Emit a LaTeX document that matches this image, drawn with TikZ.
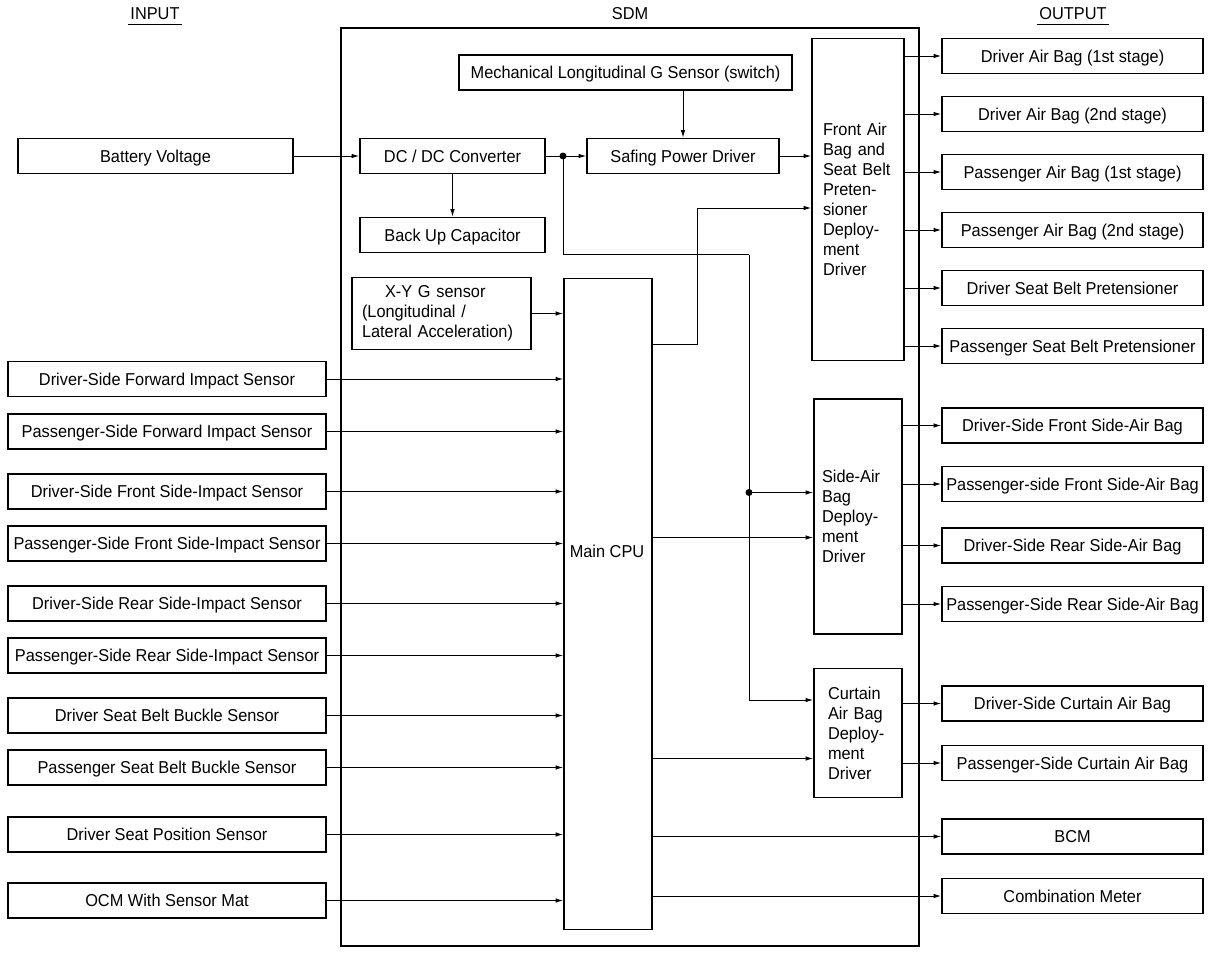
\documentclass[tikz,border=0pt]{standalone}
\usepackage{fontspec}
\setmainfont{Liberation Sans}[FakeStretch=0.95]
\usetikzlibrary{arrows.meta,calc}
\begin{document}
\begin{tikzpicture}[x=1pt,y=-1pt,
 font=\fontsize{17.2}{20}\selectfont,
 basebox/.style={draw, line width=1.8pt, inner sep=0pt, minimum height=35pt},
 box/.style={basebox, align=center, text height=12.4pt, text depth=0pt},
 inbox/.style={box, minimum width=318pt},
 outbox/.style={box, minimum width=261pt},
 drvbox/.style={basebox, align=left},
 hdr/.style={inner xsep=2.5pt, inner ysep=4pt},
 arr/.style={line width=0.9pt, -{Latex[length=7.5pt,width=4.5pt]}},
 ln/.style={line width=0.9pt},
 dot/.style={circle, fill, inner sep=0pt, minimum size=7pt},
]
\useasboundingbox (0,0) rectangle (1214,958);

% headers
\node[hdr] (inp) at (155,13.8) {INPUT};
\draw[ln] (inp.south west) -- (inp.south east);
\node[hdr] (sdml) at (630,13.8) {SDM};
\node[hdr] (outp) at (1073,13.8) {OUTPUT};
\draw[ln] (outp.south west) -- (outp.south east);

% SDM frame
\node[basebox, minimum width=578pt, minimum height=918pt] (sdm) at (630,487) {};

% inner blocks
\node[box, minimum width=333pt] (mech) at (625.5,72.5) {Mechanical Longitudinal G Sensor (switch)};
\node[box, minimum width=192pt] (sp) at (683,156) {Safing Power Driver};
\node[box, minimum width=185pt] (dc) at (452.5,156) {DC / DC Converter};
\node[inbox, minimum width=275pt] (bat) at (155.5,156) {Battery Voltage};
\node[box, minimum width=185pt] (bu) at (452.5,235) {Back Up Capacitor};
\node[drvbox, minimum width=179pt, minimum height=72pt, inner xsep=10pt, text width=159pt] (xy) at (441.5,313.5)
  {\hspace*{23pt}X-Y G sensor\\(Longitudinal /\\Lateral Acceleration)};
\node[basebox, minimum width=88pt, minimum height=651pt] (cpu) at (608,604) {};
\node (cpul) at (607,551) {Main CPU};

\node[drvbox, minimum width=92pt, minimum height=322pt, inner xsep=11pt, text width=70pt] (fab) at (858,199.5)
  {Front Air\\Bag and\\Seat Belt\\Preten-\\sioner\\Deploy-\\ment\\Driver};
\node[drvbox, minimum width=88pt, minimum height=235pt, inner xsep=8pt, text width=72pt] (side) at (858,516.5)
  {Side-Air\\Bag\\Deploy-\\ment\\Driver};
\node[drvbox, minimum width=88pt, minimum height=129pt, inner xsep=14pt, text width=60pt] (cur) at (858,733)
  {Curtain\\Air Bag\\Deploy-\\ment\\Driver};

% inputs
\node[inbox] (i1) at (167,379) {Driver-Side Forward Impact Sensor};
\node[inbox] (i2) at (167,431.5) {Passenger-Side Forward Impact Sensor};
\node[inbox] (i3) at (167,491.5) {Driver-Side Front Side-Impact Sensor};
\node[inbox] (i4) at (167,543.5) {Passenger-Side Front Side-Impact Sensor};
\node[inbox] (i5) at (167,603.5) {Driver-Side Rear Side-Impact Sensor};
\node[inbox] (i6) at (167,655.5) {Passenger-Side Rear Side-Impact Sensor};
\node[inbox] (i7) at (167,715.5) {Driver Seat Belt Buckle Sensor};
\node[inbox] (i8) at (167,767.5) {Passenger Seat Belt Buckle Sensor};
\node[inbox] (i9) at (167,834.5) {Driver Seat Position Sensor};
\node[inbox] (i10) at (167,900.5) {OCM With Sensor Mat};

% outputs
\node[outbox] (o1) at (1072.5,56) {Driver Air Bag (1st stage)};
\node[outbox] (o2) at (1072.5,114) {Driver Air Bag (2nd stage)};
\node[outbox] (o3) at (1072.5,172) {Passenger Air Bag (1st stage)};
\node[outbox] (o4) at (1072.5,230) {Passenger Air Bag (2nd stage)};
\node[outbox] (o5) at (1072.5,288) {Driver Seat Belt Pretensioner};
\node[outbox] (o6) at (1072.5,346) {Passenger Seat Belt Pretensioner};
\node[outbox] (o7) at (1072.5,425.5) {Driver-Side Front Side-Air Bag};
\node[outbox] (o8) at (1072.5,484) {Passenger-side Front Side-Air Bag};
\node[outbox] (o9) at (1072.5,545.5) {Driver-Side Rear Side-Air Bag};
\node[outbox] (o10) at (1072.5,604) {Passenger-Side Rear Side-Air Bag};
\node[outbox] (o11) at (1072.5,703.5) {Driver-Side Curtain Air Bag};
\node[outbox] (o12) at (1072.5,763) {Passenger-Side Curtain Air Bag};
\node[outbox] (o13) at (1072.5,836.5) {BCM};
\node[outbox] (o14) at (1072.5,896) {Combination Meter};

% helper coordinates
\coordinate (j1) at (563,156);
\coordinate (k1) at (749,254.5);
\coordinate (j2) at (749,492.5);
\coordinate (cy1) at (0,700);
\coordinate (cf1) at (697,344.5);
\coordinate (cf2) at (697,208);
\coordinate (cs) at (0,537.5);
\coordinate (cc) at (0,758.5);

% power path
\draw[arr] (bat.east) -- (dc.west);
\draw[arr] (dc.east) -- (sp.west);
\draw[arr] (sp.east) -- (sp.east -| fab.west);
\draw[arr] (mech.south -| sp.north) -- (sp.north);
\draw[arr] (dc.south) -- (bu.north);
\node[dot] (d1) at (j1) {};
\draw[ln] (j1) |- (k1);
\draw[arr] (k1) |- (cy1 -| cur.west);
\node[dot] (d2) at (j2) {};
\draw[arr] (j2) -- (j2 -| side.west);

% cpu
\draw[arr] (xy.east) -- (xy.east -| cpu.west);
\draw[ln] (cf1 -| cpu.east) -- (cf1) -- (cf2);
\draw[arr] (cf2) -- (cf2 -| fab.west);
\draw[arr] (cs -| cpu.east) -- (cs -| side.west);
\draw[arr] (cc -| cpu.east) -- (cc -| cur.west);
\draw[arr] (o13.west -| cpu.east) -- (o13.west);
\draw[arr] (o14.west -| cpu.east) -- (o14.west);

% inputs to cpu
\foreach \i in {1,...,10} {
  \draw[arr] (i\i.east) -- (i\i.east -| cpu.west);
}

% outputs
\foreach \o in {1,...,6} {
  \draw[arr] (o\o.west -| fab.east) -- (o\o.west);
}
\foreach \o in {7,...,10} {
  \draw[arr] (o\o.west -| side.east) -- (o\o.west);
}
\foreach \o in {11,12} {
  \draw[arr] (o\o.west -| cur.east) -- (o\o.west);
}
\end{tikzpicture}
\end{document}
